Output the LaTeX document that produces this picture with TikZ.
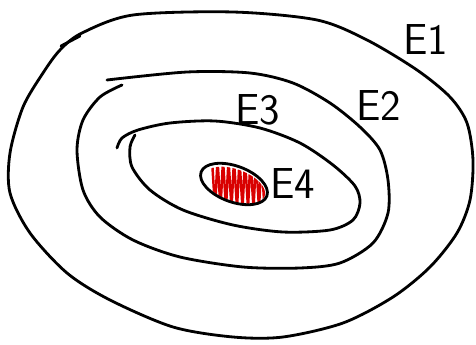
\documentclass[tikz,border=0pt]{standalone}
\usepackage{tikz}
\usetikzlibrary{calc}

\begin{document}
\begin{tikzpicture}[
  x=0.03cm, y=-0.03cm,
  loopline/.style={draw=black, line width=2.4pt, line cap=round, line join=round},
  hatch/.style={draw=red!85!black, line width=2.1pt, line cap=round, line join=round},
  setlabel/.style={font=\sffamily\fontsize{37}{37}\selectfont, inner sep=0pt, text=black},
]
\useasboundingbox (0,0) rectangle (476,345);

% outer set E1
\draw[loopline] plot[smooth cycle] coordinates {(82,33) (133,15) (233,12) (317,20) (367,40) (417,70) (450,97) (467,123) (473,160) (470,200) (457,233) (430,267) (393,297) (343,323) (283,337) (233,337) (173,327) (110,300) (67,273) (30,233) (10,193) (10,153) (23,107) (43,73) (60,50)};
\draw[loopline] (61,46) -- (80,36);

% E2, left open at the top
\draw[loopline] plot[smooth] coordinates {(107,80) (187,72) (250,73) (293,83) (330,103) (360,127) (380,150) (388,180) (388,213) (373,243) (340,263) (300,268) (243,267) (180,257) (133,240) (100,217) (83,190) (77,150) (83,120) (100,97) (122,85)};

% E3
\draw[loopline] plot[smooth] coordinates {(117,148) (122,138) (138,130) (170,123) (215,121) (260,128) (300,143) (333,165) (355,186) (360,203) (353,220) (330,230) (283,232) (233,225) (183,210) (150,190) (132,167) (130,147) (135,135)};

% E4, filled by hand
\begin{scope}
  \clip[rotate around={-20:(234,184)}] (235,185) ellipse [x radius=32, y radius=16];
  \draw[hatch] (212,160) \foreach \k in {0,...,10} { -- ({215+5.5*\k},208) -- ({217.5+5.5*\k},160) };
\end{scope}
\draw[loopline, rotate around={-20:(234,184)}] (234,184) ellipse [x radius=35, y radius=18];

% labels
\node[setlabel] (lblone) at (426,40) {E1};
\node[setlabel] (lbltwo) at (379,106) {E2};
\node[setlabel] (lblthree) at (258,110) {E3};
\node[setlabel] (lblfour) at (293,184) {E4};
\end{tikzpicture}
\end{document}
